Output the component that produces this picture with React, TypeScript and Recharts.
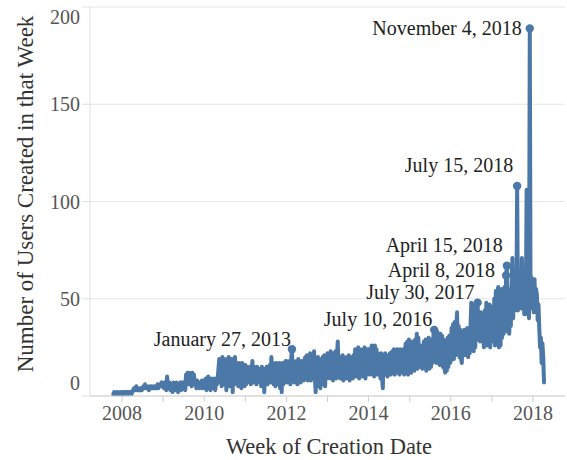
import React from 'react';
import { LineChart, Line, XAxis, YAxis, CartesianGrid } from 'recharts';

// Weekly user counts, one array per calendar year (52 weeks each)
const w2007 = [1, 2, 1, 1, 2, 1, 1, 2, 1, 1, 2]; // starts at week 41
const w2008 = [1, 2, 1, 2, 2, 1, 2, 2, 1, 2, 2, 2, 1, 2, 3, 4, 3, 3, 5, 3, 4, 3, 3, 4, 3, 3, 4, 5, 4, 6, 4, 4, 5, 4, 3, 5, 4, 4, 5, 4, 4, 5, 4, 4, 5, 6, 4, 5, 6, 5, 7, 6];
const w2009 = [6, 4, 7, 5, 3, 10, 6, 4, 7, 3, 6, 5, 2, 7, 4, 6, 3, 7, 5, 2, 6, 4, 7, 3, 5, 7, 4, 6, 3, 11, 7, 12, 6, 12, 8, 11, 5, 12, 7, 11, 6, 7, 4, 8, 5, 6, 4, 7, 5, 8, 4, 7];
const w2010 = [8, 4, 9, 3, 7, 10, 5, 8, 3, 9, 4, 7, 5, 9, 3, 8, 6, 9, 14, 19, 7, 18, 5, 20, 8, 19, 6, 17, 3, 19, 9, 20, 5, 18, 7, 19, 2, 18, 6, 20, 8, 17, 16, 5, 17, 7, 15, 4, 17, 6, 16, 5];
const w2011 = [16, 6, 15, 7, 14, 8, 15, 6, 13, 18, 7, 15, 8, 14, 6, 15, 9, 13, 7, 14, 5, 15, 8, 14, 2, 13, 7, 15, 6, 14, 9, 16, 7, 20, 8, 17, 6, 16, 5, 17, 7, 15, 6, 17, 4, 16, 2, 17, 6, 16, 7, 18];
const w2012 = [18, 7, 17, 8, 18, 6, 19, 24, 8, 18, 7, 17, 9, 18, 6, 19, 8, 17, 7, 18, 9, 17, 8, 19, 20, 9, 21, 8, 20, 10, 22, 8, 21, 9, 19, 23, 10, 2, 19, 5, 20, 7, 18, 4, 19, 6, 20, 8, 21, 5, 20, 9];
const w2013 = [22, 10, 21, 9, 23, 11, 20, 8, 22, 10, 23, 9, 21, 28, 12, 20, 9, 19, 10, 21, 8, 20, 11, 19, 9, 20, 12, 21, 8, 19, 10, 20, 9, 21, 11, 24, 10, 23, 12, 25, 9, 24, 11, 22, 10, 24, 12, 25, 9, 23, 11, 24];
const w2014 = [12, 24, 11, 23, 26, 12, 25, 10, 26, 13, 24, 11, 22, 12, 21, 9, 22, 10, 4, 21, 11, 22, 12, 20, 10, 21, 13, 22, 11, 21, 23, 12, 24, 11, 22, 13, 24, 12, 23, 11, 24, 13, 22, 12, 24, 11, 23, 27, 12, 28, 11, 29];
const w2015 = [13, 27, 12, 28, 14, 26, 13, 29, 15, 32, 14, 30, 16, 26, 15, 20, 14, 25, 28, 15, 29, 13, 27, 16, 30, 14, 28, 15, 29, 17, 31, 34, 18, 32, 17, 33, 18, 30, 16, 32, 17, 31, 15, 29, 14, 12, 27, 13, 30, 15, 31, 17];
const w2016 = [18, 35, 20, 37, 19, 38, 21, 36, 43, 22, 36, 20, 34, 19, 17, 33, 22, 34, 21, 33, 23, 35, 20, 34, 22, 36, 48, 24, 46, 23, 47, 25, 42, 29, 48, 30, 42, 28, 43, 30, 41, 29, 25, 44, 27, 48, 26, 46, 28, 47, 25, 46];
const w2017 = [30, 45, 28, 50, 26, 54, 27, 52, 56, 25, 50, 26, 55, 30, 54, 32, 56, 35, 62, 67, 33, 55, 32, 50, 36, 58, 71, 40, 60, 44, 65, 46, 108, 44, 62, 48, 60, 45, 71, 51, 58, 42, 56, 45, 106, 42, 55, 40, 189, 45, 61, 47];
const w2018 = [58, 43, 60, 44, 55, 52, 39, 47, 35, 25, 30, 17, 27, 20, 7];

const seriesYears = [2007, 2008, 2009, 2010, 2011, 2012, 2013, 2014, 2015, 2016, 2017, 2018];
const seriesFirstWeek = [41, 0, 0, 0, 0, 0, 0, 0, 0, 0, 0, 0];
const seriesValues = [w2007, w2008, w2009, w2010, w2011, w2012, w2013, w2014, w2015, w2016, w2017, w2018];

// Annotated weeks
const labelText = ['January 27, 2013', 'July 10, 2016', 'July 30, 2017', 'April 8, 2018', 'April 15, 2018', 'July 15, 2018', 'November 4, 2018'];
const labelYear = [2012, 2015, 2016, 2017, 2017, 2017, 2017];
const labelWeek = [7, 31, 34, 18, 19, 32, 48];

const xTicks = [2008, 2009, 2010, 2011, 2012, 2013, 2014, 2015, 2016, 2017, 2018];
const yTicks = [0, 50, 100, 150, 200];

// styling
const FONT = "'Liberation Serif', 'Times New Roman', serif";
const LINE_COLOR = '#4c78a8';
const labelOffsets: Record<string, [number, number]> = {
  'January 27, 2013': [-1, -10],
  'July 10, 2016': [-2, -11],
  'July 30, 2017': [-3, -11],
  'April 8, 2018': [-11, -5],
  'April 15, 2018': [-4, -21],
  'July 15, 2018': [-4, -21],
  'November 4, 2018': [-8, 0],
};

const data: { t: number; users: number; label?: string }[] = [];
seriesYears.forEach((yr, k) => {
  seriesValues[k].forEach((v, i) => {
    const wk = seriesFirstWeek[k] + i;
    const li = labelYear.findIndex((ly, j) => ly === yr && labelWeek[j] === wk);
    data.push({ t: yr + wk / 52, users: v, label: li >= 0 ? labelText[li] : undefined });
  });
});

const XTick = (props: any) => {
  const { x, y, payload } = props;
  if (payload.value % 2 !== 0) return <g />;
  return (
    <text x={x} y={y} dy={16} textAnchor="middle" fontSize={20} fill="#555" fontFamily={FONT}>
      {payload.value}
    </text>
  );
};

const YTick = (props: any) => {
  const { x, y, payload } = props;
  const shift = payload.value === 200 ? 8 : payload.value === 0 ? -13 : 0;
  return (
    <text x={x} y={y + shift} dy={7} textAnchor="end" fontSize={20} fill="#555" fontFamily={FONT}>
      {payload.value}
    </text>
  );
};

const renderDot = (props: any) => {
  const { cx, cy, payload, index } = props;
  if (!payload || !payload.label) return <g key={`d${index}`} />;
  const off = labelOffsets[payload.label] || [-4, -10];
  return (
    <g key={`d${index}`}>
      <circle cx={cx} cy={cy} r={4.2} fill={LINE_COLOR} />
      <text
        x={cx + off[0]}
        y={cy + off[1]}
        dy={7}
        textAnchor="end"
        fontSize={20}
        fill="#222"
        fontFamily={FONT}
      >
        {payload.label}
      </text>
    </g>
  );
};

export default function App() {
  return (
    <div style={{ position: 'absolute', left: 0, top: 0, width: 567, height: 460, background: '#fff' }}>
      <LineChart width={567} height={460} data={data} margin={{ top: 7, right: 2, left: 0, bottom: 0 }}>
        <CartesianGrid vertical={false} stroke="#e6e6e6" strokeWidth={1} />
        <XAxis
          dataKey="t"
          type="number"
          domain={[2007.22, 2018.78]}
          ticks={xTicks}
          interval={0}
          height={64}
          tickSize={6}
          tickMargin={2}
          tick={<XTick />}
          axisLine={{ stroke: '#cfcfcf' }}
          tickLine={{ stroke: '#cfcfcf' }}
          label={{
            content: () => (
              <text x={329} y={454} textAnchor="middle" fontSize={22.5} fill="#333" fontFamily={FONT}>
                Week of Creation Date
              </text>
            ),
          }}
        />
        <YAxis
          type="number"
          domain={[0, 200]}
          ticks={yTicks}
          width={90}
          tickSize={8}
          tickMargin={2}
          tick={<YTick />}
          axisLine={{ stroke: '#e0e0e0' }}
          tickLine={{ stroke: '#e0e0e0' }}
          label={{
            content: () => (
              <text
                x={25}
                y={194}
                dy={8}
                transform="rotate(-90 25 194)"
                textAnchor="middle"
                fontSize={23}
                fill="#333"
                fontFamily={FONT}
              >
                Number of Users Created in that Week
              </text>
            ),
          }}
        />
        <Line
          type="linear"
          dataKey="users"
          stroke={LINE_COLOR}
          strokeWidth={4}
          strokeLinejoin="round"
          strokeLinecap="round"
          dot={renderDot}
          activeDot={false}
          isAnimationActive={false}
        />
      </LineChart>
    </div>
  );
}
